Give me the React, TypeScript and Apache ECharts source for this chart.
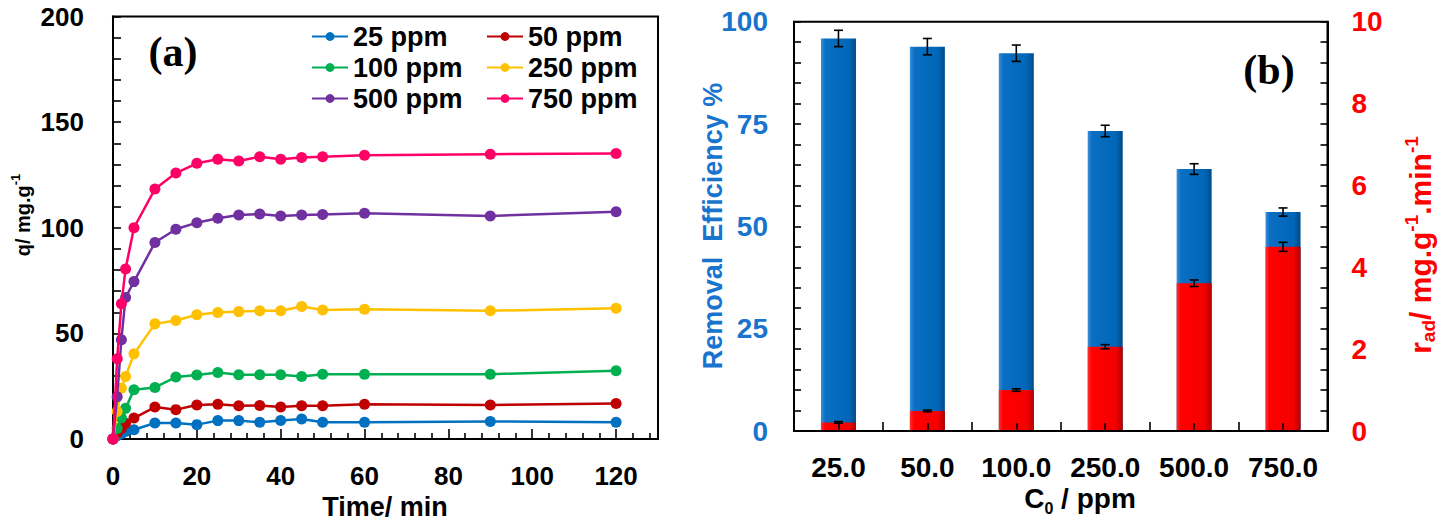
import React, { useEffect, useRef } from "react";
import * as echarts from "echarts";

// ---------- Data: (a) adsorption kinetics ----------
const times = [0, 1, 2, 3, 5, 10, 15, 20, 25, 30, 35, 40, 45, 50, 60, 90, 120];
const q25 = [0, 1.5, 2.5, 3.5, 4.4, 7.6, 7.6, 6.8, 8.7, 8.7, 7.9, 8.8, 9.5, 7.9, 7.9, 8.3, 7.9];
const q50 = [0, 3, 5, 7.5, 9.9, 15.1, 13.9, 16.1, 16.4, 15.7, 15.9, 15.1, 15.7, 15.7, 16.4, 16.1, 16.8];
const q100 = [0, 5, 10, 14.5, 23.3, 24.4, 29.3, 30.3, 31.5, 30.4, 30.4, 30.4, 29.6, 30.7, 30.7, 30.7, 32.3];
const q250 = [0, 13, 24, 29.6, 40.3, 54.5, 56.1, 58.8, 59.9, 60.3, 60.7, 60.7, 62.7, 61.1, 61.4, 60.7, 61.9];
const q500 = [0, 20, 47, 67, 74.5, 93, 99.3, 102.4, 104.5, 106, 106.5, 105.6, 106, 106.3, 106.9, 105.6, 107.6];
const q750 = [0, 38, 64, 80.5, 100, 118.3, 125.9, 130.5, 132.4, 131.6, 133.6, 132.4, 133.3, 133.6, 134.3, 134.8, 135.2];
const seriesNames = ["25 ppm", "50 ppm", "100 ppm", "250 ppm", "500 ppm", "750 ppm"];
const seriesColors = ["#0070c0", "#c00000", "#00b050", "#ffc000", "#7030a0", "#ff0066"];
const seriesValues = [q25, q50, q100, q250, q500, q750];
const xMajorTicks = [0, 20, 40, 60, 80, 100, 120];
const xMinorTicks = [4, 8, 12, 16, 24, 28, 32, 36, 44, 48, 52, 56, 64, 68, 72, 76, 84, 88, 92, 96, 104, 108, 112, 116, 124, 128];

// ---------- Data: (b) removal efficiency and rate ----------
const categories = ["25.0", "50.0", "100.0", "250.0", "500.0", "750.0"];
const removal = [95.9, 93.9, 92.3, 73.3, 64.0, 53.5];
const removalErr = [2.0, 2.0, 2.0, 1.4, 1.3, 1.0];
const rate = [0.21, 0.49, 1.0, 2.06, 3.61, 4.5];
const rateErr = [0.02, 0.02, 0.03, 0.05, 0.08, 0.11];

const FONT = "Liberation Sans";
const SERIF = "Liberation Serif";
const AXIS_BLUE = "#1874cd";
const AXIS_RED = "#ff0000";

function errorRender(params: any, api: any) {
  const x = api.value(0);
  const lo = api.coord([x, api.value(1)]);
  const hi = api.coord([x, api.value(2)]);
  const w = 4.5;
  const st = { stroke: "#000", lineWidth: 1.6 };
  return {
    type: "group",
    children: [
      { type: "line", shape: { x1: lo[0], y1: lo[1], x2: hi[0], y2: hi[1] }, style: st },
      { type: "line", shape: { x1: lo[0] - w, y1: lo[1], x2: lo[0] + w, y2: lo[1] }, style: st },
      { type: "line", shape: { x1: hi[0] - w, y1: hi[1], x2: hi[0] + w, y2: hi[1] }, style: st },
    ],
  };
}

export default function App() {
  const ref = useRef<HTMLDivElement>(null);

  useEffect(() => {
    if (!ref.current) return;
    const chart = echarts.init(ref.current, null, { renderer: "svg" });

    const tickLine = { color: "#000", width: 1.6 };
    const axisLine = { show: true, lineStyle: { color: "#000", width: 2 } };

    const blueGrad = new echarts.graphic.LinearGradient(0, 0, 1, 0, [
      { offset: 0, color: "#3d8fd8" },
      { offset: 0.12, color: "#0a6fc2" },
      { offset: 0.8, color: "#0067b8" },
      { offset: 1, color: "#004a88" },
    ]);
    const redGrad = new echarts.graphic.LinearGradient(0, 0, 1, 0, [
      { offset: 0, color: "#ff3030" },
      { offset: 0.12, color: "#ff0000" },
      { offset: 0.8, color: "#f40000" },
      { offset: 1, color: "#b20000" },
    ]);

    const lineSeries = seriesNames.map((name, k) => ({
      name,
      type: "line",
      xAxisIndex: 0,
      yAxisIndex: 0,
      data: times.map((t, i) => [t, seriesValues[k][i]]),
      symbol: "circle",
      symbolSize: 11,
      showSymbol: true,
      lineStyle: { width: 2.5, color: seriesColors[k] },
      itemStyle: { color: seriesColors[k] },
      z: 3 + k,
    }));

    const legendCommon = {
      orient: "vertical",
      top: 23,
      itemWidth: 36,
      itemHeight: 11,
      itemGap: 4,
      padding: 0,
      textStyle: { fontFamily: FONT, fontWeight: "bold", fontSize: 27, color: "#000", lineHeight: 27 },
    };

    const option: any = {
      animation: false,
      backgroundColor: "#fff",
      grid: [
        { left: 113, top: 16.5, width: 545, height: 422.5, show: true, borderColor: "#000", borderWidth: 2, outerBoundsMode: "none" },
        { left: 794, top: 21.7, width: 533.5, height: 409.3, show: true, borderColor: "#000", borderWidth: 2, outerBoundsMode: "none" },
      ],
      legend: [
        { ...legendCommon, left: 311, data: ["25 ppm", "100 ppm", "500 ppm"] },
        { ...legendCommon, left: 486, data: ["50 ppm", "250 ppm", "750 ppm"] },
      ],
      xAxis: [
        {
          type: "value", gridIndex: 0, min: 0, max: 130, interval: 20,
          axisLine,
          splitLine: { show: false },
          axisTick: { show: true, inside: true, length: 10, lineStyle: tickLine, customValues: xMajorTicks },
          axisLabel: { customValues: xMajorTicks, margin: 24, fontFamily: FONT, fontWeight: "bold", fontSize: 26, color: "#000" },
        },
        {
          type: "value", gridIndex: 0, min: 0, max: 130, interval: 20, position: "bottom",
          axisLine: { show: false },
          splitLine: { show: false },
          axisLabel: { show: false },
          axisTick: { show: true, inside: true, length: 6, lineStyle: tickLine, customValues: xMinorTicks },
        },
        {
          type: "category", gridIndex: 1, data: categories, position: "bottom", z: 10,
          axisLine,
          axisTick: { show: true, inside: true, alignWithLabel: true, length: 8, lineStyle: tickLine },
          axisLabel: { interval: 0, margin: 22, fontFamily: FONT, fontWeight: "bold", fontSize: 28, color: "#000" },
        },
        {
          type: "category", gridIndex: 1, data: categories, position: "bottom",
          axisLine: { show: false },
          axisTick: { show: true, inside: true, interval: 0, length: 9, lineStyle: tickLine },
          axisLabel: { show: false },
        },
      ],
      yAxis: [
        {
          type: "value", gridIndex: 0, min: 0, max: 200, interval: 50,
          axisLine,
          splitLine: { show: false },
          axisTick: { show: true, inside: true, length: 8, lineStyle: tickLine },
          minorTick: { show: true, splitNumber: 5, length: 8, lineStyle: tickLine },
          axisLabel: { margin: 29, fontFamily: FONT, fontWeight: "bold", fontSize: 26, color: "#000" },
        },
        {
          type: "value", gridIndex: 1, min: 0, max: 100, interval: 25, position: "left",
          axisLine,
          splitLine: { show: false },
          axisTick: { show: true, inside: true, length: 7, lineStyle: tickLine },
          minorTick: { show: true, splitNumber: 5, length: 7, lineStyle: tickLine },
          axisLabel: { margin: 26, fontFamily: FONT, fontWeight: "bold", fontSize: 28, color: AXIS_BLUE },
        },
        {
          type: "value", gridIndex: 1, min: 0, max: 10, interval: 2, position: "right",
          axisLine,
          splitLine: { show: false },
          axisTick: { show: true, inside: true, length: 7, lineStyle: tickLine },
          minorTick: { show: true, splitNumber: 4, length: 7, lineStyle: tickLine },
          axisLabel: { margin: 24, fontFamily: FONT, fontWeight: "bold", fontSize: 28, color: AXIS_RED },
        },
      ],
      series: [
        ...lineSeries,
        {
          name: "Removal Efficiency", type: "bar", xAxisIndex: 2, yAxisIndex: 1,
          data: removal, barWidth: 35, barGap: "-100%",
          itemStyle: { color: blueGrad }, z: 2,
        },
        {
          name: "rad", type: "bar", xAxisIndex: 2, yAxisIndex: 2,
          data: rate, barWidth: 35, barGap: "-100%",
          itemStyle: { color: redGrad }, z: 3,
        },
        {
          type: "custom", xAxisIndex: 2, yAxisIndex: 1, renderItem: errorRender, z: 10,
          data: removal.map((v, i) => [i, v - removalErr[i], v + removalErr[i]]),
        },
        {
          type: "custom", xAxisIndex: 2, yAxisIndex: 2, renderItem: errorRender, z: 10,
          data: rate.map((v, i) => [i, v - rateErr[i], v + rateErr[i]]),
        },
      ],
      graphic: [
        {
          type: "text", x: 173, y: 52,
          style: { text: "(a)", font: `bold 42px "${SERIF}"`, fill: "#000", align: "center", verticalAlign: "middle" },
        },
        {
          type: "text", x: 1269, y: 70,
          style: { text: "(b)", font: `bold 42px "${SERIF}"`, fill: "#000", align: "center", verticalAlign: "middle" },
        },
        {
          type: "text", x: 385, y: 507,
          style: { text: "Time/ min", font: `bold 27px "${FONT}"`, fill: "#000", align: "center", verticalAlign: "middle" },
        },
        {
          type: "text", x: 21, y: 215, rotation: Math.PI / 2,
          style: {
            text: "{a|q/ mg.g}{s|-1}", align: "center", verticalAlign: "middle",
            rich: {
              a: { fontFamily: FONT, fontWeight: "bold", fontSize: 20, fill: "#000", lineHeight: 24, verticalAlign: "bottom" },
              s: { fontFamily: FONT, fontWeight: "bold", fontSize: 13, fill: "#000", lineHeight: 24, verticalAlign: "top" },
            },
          },
        },
        {
          type: "text", x: 713, y: 226, rotation: Math.PI / 2,
          style: { text: "Removal  Efficiency %", font: `bold 27px "${FONT}"`, fill: AXIS_BLUE, align: "center", verticalAlign: "middle" },
        },
        {
          type: "text", x: 1080, y: 500,
          style: {
            text: "{a|C}{b|0}{a| / ppm}", align: "center", verticalAlign: "middle",
            rich: {
              a: { fontFamily: FONT, fontWeight: "bold", fontSize: 28, fill: "#000", lineHeight: 32, verticalAlign: "top" },
              b: { fontFamily: FONT, fontWeight: "bold", fontSize: 16, fill: "#000", lineHeight: 32, verticalAlign: "bottom" },
            },
          },
        },
        {
          type: "text", x: 1420, y: 245, rotation: Math.PI / 2,
          style: {
            text: "{a|r}{b|ad}{a|/ mg.g}{s|-1}{a|.min}{s|-1}", align: "center", verticalAlign: "middle",
            rich: {
              a: { fontFamily: FONT, fontWeight: "bold", fontSize: 30, fill: AXIS_RED, lineHeight: 36, verticalAlign: "middle" },
              b: { fontFamily: FONT, fontWeight: "bold", fontSize: 19, fill: AXIS_RED, lineHeight: 36, verticalAlign: "bottom" },
              s: { fontFamily: FONT, fontWeight: "bold", fontSize: 19, fill: AXIS_RED, lineHeight: 36, verticalAlign: "top" },
            },
          },
        },
      ],
    };

    chart.setOption(option);
    return () => chart.dispose();
  }, []);

  return (
    <div
      ref={ref}
      style={{ position: "fixed", left: 0, top: 0, width: 1445, height: 523, background: "#fff" }}
    />
  );
}
